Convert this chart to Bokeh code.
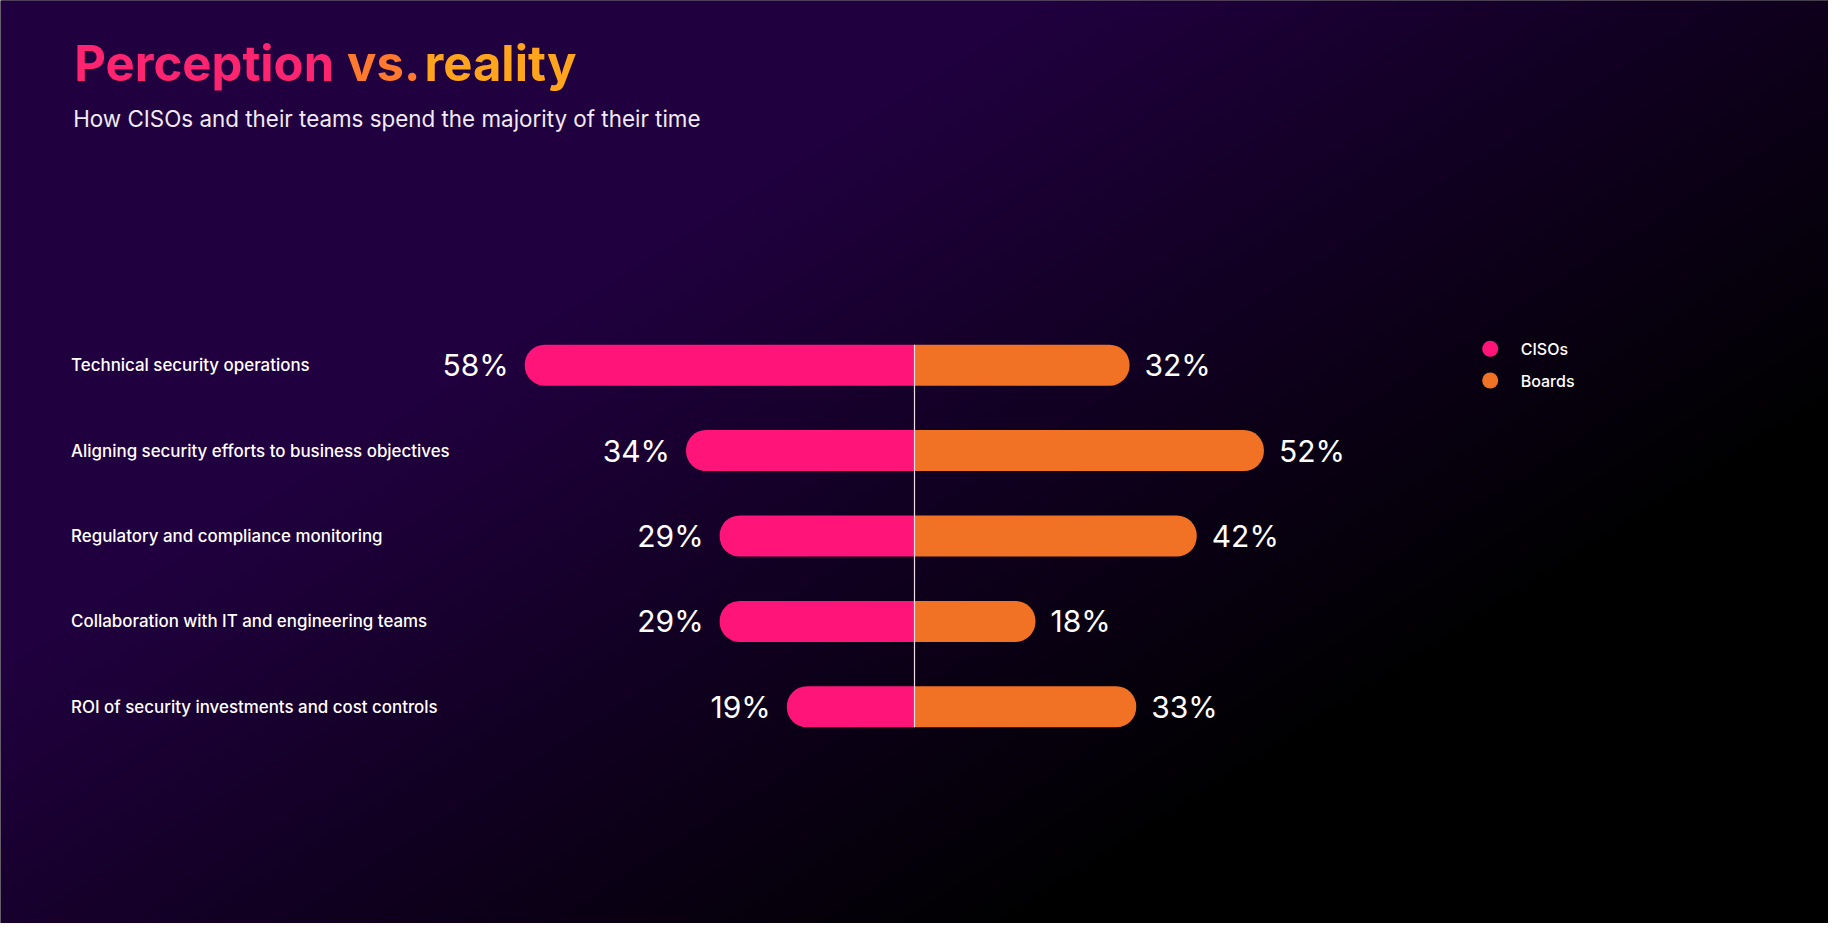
import numpy as np
from bokeh.plotting import figure
from bokeh.models import Range1d, Label, ColumnDataSource
from bokeh.core.properties import value
from bokeh.embed import file_html
from bokeh.resources import INLINE

# ---------------- data ----------------
categories = [
    "Technical security operations",
    "Aligning security efforts to business objectives",
    "Regulatory and compliance monitoring",
    "Collaboration with IT and engineering teams",
    "ROI of security investments and cost controls",
]
cisos = [58, 34, 29, 29, 19]
boards = [32, 52, 42, 18, 33]
series_names = ["CISOs", "Boards"]
title_words = ["Perception", "vs.", "reality"]
subtitle = "How CISOs and their teams spend the majority of their time"

# ---------------- style / layout ----------------
W, H = 1828, 923
PINK = "#FF1479"
ORANGE = "#F27225"
FONT = "Inter"
LABEL_FONT = "Inter Medium, Inter"
series_colors = [PINK, ORANGE]

px_per_pct = 6.72
zero_px = 914.0
row_px0 = 364.7
row_pitch = 85.4
bar_px = 41.0
n = len(categories)
bar_h = bar_px / row_pitch

x_range = Range1d(-zero_px / px_per_pct, (W - zero_px) / px_per_pct)
y_top = -row_px0 / row_pitch
y_range = Range1d(y_top + H / row_pitch, y_top)

p = figure(width=W, height=H, x_range=x_range, y_range=y_range,
           output_backend="svg", toolbar_location=None,
           x_axis_location=None, y_axis_location=None, min_border=0)
p.grid.visible = False
p.outline_line_color = None
p.background_fill_color = "#000000"
p.border_fill_color = "#000000"
p.extra_x_ranges = {"px": Range1d(0, W)}
p.extra_y_ranges = {"bg": Range1d(0, H), "px": Range1d(H, 0)}

# ---------------- background gradient ----------------
step = 4
gw, gh = W // step + 1, H // step + 1
cx = (np.arange(gw) + 0.5) * step
cy = (np.arange(gh) + 0.5) * step
U, V = np.meshgrid(cx / 1844.0, cy / 939.0)
d = U + 0.8 * V
t = np.clip((1.35 - d) / (1.35 - 0.55), 0, 1)
base = np.array([33, 0, 64], dtype=float)
img = np.empty((gh, gw), dtype=np.uint32)
view = img.view(dtype=np.uint8).reshape((gh, gw, 4))
view[..., 0] = (t * base[0]).astype(np.uint8)
view[..., 1] = (t * base[1]).astype(np.uint8)
view[..., 2] = (t * base[2]).astype(np.uint8)
view[..., 3] = 255
img = img[::-1].copy()
p.image_rgba(image=[img], x=0, y=0, dw=gw * step, dh=gh * step,
             x_range_name="px", y_range_name="bg", level="image")

# ---------------- bars ----------------
src = ColumnDataSource(dict(
    y=list(range(n)),
    cat=categories,
    c_left=[-v for v in cisos],
    b_right=boards,
    c_lab=[f"{v}%" for v in cisos],
    b_lab=[f"{v}%" for v in boards],
))
r = int(bar_px // 2)
p.hbar(y="y", left="c_left", right=0, height=bar_h, source=src,
       fill_color=PINK, line_color=None, border_radius=(r, 0, 0, r))
p.hbar(y="y", left=0, right="b_right", height=bar_h, source=src,
       fill_color=ORANGE, line_color=None, border_radius=(0, r, r, 0))
p.segment(x0=0, y0=-bar_h / 2, x1=0, y1=n - 1 + bar_h / 2,
          line_color="#EEDCE8", line_width=1.2)

p.text(x="c_left", y="y", text="c_lab", source=src, x_offset=-16,
       text_align="right", text_baseline="middle", text_color="#FFFFFF",
       text_font=value(FONT), text_font_size="30px")
p.text(x="b_right", y="y", text="b_lab", source=src, x_offset=15,
       text_align="left", text_baseline="middle", text_color="#FFFFFF",
       text_font=value(FONT), text_font_size="30px")

p.text(x=70.6, y="y", text="cat", source=src, x_range_name="px",
       text_align="left", text_baseline="middle", text_color="#FFFFFF",
       text_font=value(LABEL_FONT), text_font_size="16.9px")

# ---------------- legend ----------------
leg_x, leg_y0, leg_pitch = 1489.7, 348.3, 31.7
leg_y = [leg_y0 + i * leg_pitch for i in range(len(series_names))]
p.scatter(x=[leg_x] * len(series_names), y=leg_y, size=16, marker="circle",
          fill_color=series_colors, line_color=None,
          x_range_name="px", y_range_name="px")
p.text(x=leg_x + 30.5, y=leg_y, text=series_names,
       x_range_name="px", y_range_name="px",
       text_align="left", text_baseline="middle", text_color="#FFFFFF",
       text_font=value(LABEL_FONT), text_font_size="16px")

# ---------------- titles ----------------
title_x = [73.7, 346.6, 424.0]
title_colors = ["#FF2470", "#FF7A2E", "#FFA41C"]
for wtxt, wx, wc in zip(title_words, title_x, title_colors):
    p.add_layout(Label(x=wx, y=H - 63.4, x_units="screen", y_units="screen",
                       text=wtxt, text_baseline="middle", text_align="left",
                       text_font=FONT, text_font_size="49px",
                       text_font_style="bold", text_color=wc))
p.add_layout(Label(x=72.7, y=H - 117.9, x_units="screen", y_units="screen",
                   text=subtitle, text_baseline="middle", text_align="left",
                   text_font=FONT, text_font_size="22.4px", text_color="#EFEAF3"))

open("out.html", "w").write(file_html(p, INLINE))
